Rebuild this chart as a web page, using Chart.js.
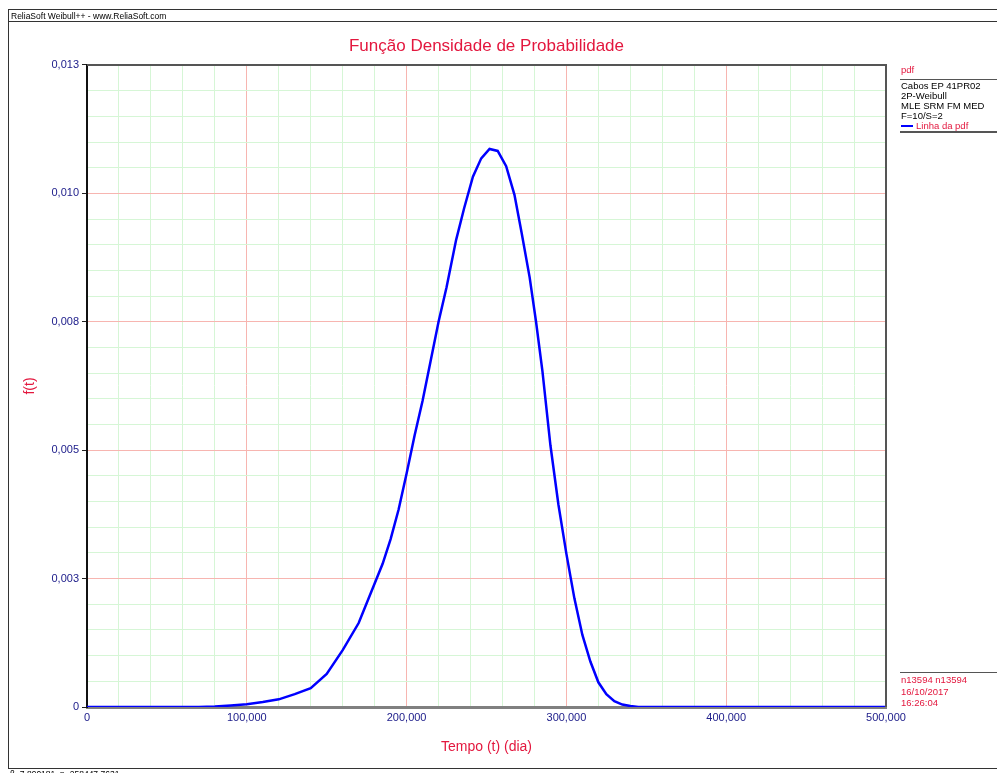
<!DOCTYPE html>
<html>
<head>
<meta charset="utf-8">
<title>Função Densidade de Probabilidade</title>
<script src="https://cdn.jsdelivr.net/npm/chart.js@4.4.1/dist/chart.umd.min.js"></script>
<style>
html,body{margin:0;padding:0;background:#fff;overflow:hidden;}
#wrap{position:relative;width:997px;height:773px;font-family:"Liberation Sans",Arial,sans-serif;}
#chartBox{position:absolute;left:0;top:0;width:997px;height:773px;}
.frame{position:absolute;left:8px;top:9px;width:1000px;height:760px;border:1.5px solid #333;box-sizing:border-box;pointer-events:none;}
.hdr{position:absolute;left:8px;top:21px;width:1000px;border-top:1px solid #333;}
.txt{position:absolute;font-size:9.5px;line-height:10px;white-space:nowrap;}
.red{color:#e3173e;}
.sep{position:absolute;left:900px;width:97px;border-top:1px solid #555;}
</style>
</head>
<body>
<div id="wrap">
  <div id="chartBox"><canvas id="chart"></canvas></div>
  <div class="frame"></div>
  <div class="hdr"></div>
  <div class="txt" style="left:11px;top:11px;font-size:8.5px;">ReliaSoft Weibull++ - www.ReliaSoft.com</div>

  <div class="txt red" style="left:901px;top:65px;">pdf</div>
  <div class="sep" style="top:79px;"></div>
  <div class="txt" style="left:901px;top:81px;">Cabos EP 41PR02<br>2P-Weibull<br>MLE SRM FM MED<br>F=10/S=2</div>
  <div style="position:absolute;left:901px;top:125px;width:12px;border-top:2px solid #0000ff;"></div>
  <div class="txt red" style="left:916px;top:121px;">Linha da pdf</div>
  <div class="sep" style="top:131px;border-top:2px solid #555;"></div>

  <div class="sep" style="top:672px;"></div>
  <div class="txt red" style="left:901px;top:674px;line-height:11.7px;">n13594 n13594<br>16/10/2017<br>16:26:04</div>

  <div class="txt" style="left:10px;top:769px;font-size:8.5px;">β=7,890181, η=258447,7631</div>
</div>
<script>
// data (time in days, pdf value)
const tempo = [0, 20000, 40000, 60000, 70000, 80000, 90000, 100000, 110000, 120000,
  130000, 140000, 150000, 160000, 170000, 180000, 185000, 190000, 195000, 200000, 205000, 210000,
  215000, 220000, 225000, 231000, 236000, 241500, 246700, 251900, 257000, 262300,
  267500, 272000, 277000, 281000, 285000, 290000, 295000, 300000, 305000, 310000,
  315000, 320000, 325000, 330000, 335000, 340000, 345000, 400000, 450000, 500000];
const pdf = [0, 0, 0, 0, 0, 0.00001, 0.00003, 0.000055, 0.0001, 0.000155,
  0.00026, 0.00038, 0.00067, 0.00115, 0.0017, 0.0025, 0.0029, 0.0034, 0.0040, 0.00473, 0.0055, 0.0062,
  0.0070, 0.0078, 0.0085, 0.00946, 0.0101, 0.01074, 0.01111, 0.0113, 0.01126, 0.01095,
  0.01037, 0.0096, 0.0087, 0.0078, 0.0068, 0.0053, 0.0041, 0.0031, 0.0022, 0.00146,
  0.00092, 0.0005, 0.00026, 0.00012, 0.00005, 0.00002, 0, 0, 0, 0];

const xTickLabels = ['0', '100,000', '200,000', '300,000', '400,000', '500,000'];
const yTickLabels = ['0', '0,003', '0,005', '0,008', '0,010', '0,013'];
const xMax = 500000;
const yMax = 0.013;

const red = '#e3173e';
const navy = '#20208c';
const gridMajor = '#f7b5b0';
const gridMinor = '#d6f6d6';
const font = 'Liberation Sans';

// top and right frame of the plot area
const frameLines = {
  id: 'frameLines',
  afterDatasetsDraw(c){
    const a = c.chartArea, g = c.ctx;
    g.save();
    g.strokeStyle = '#555'; g.lineWidth = 2;
    g.beginPath(); g.moveTo(a.left, a.top); g.lineTo(a.right, a.top); g.lineTo(a.right, a.bottom); g.stroke();
    g.restore();
  }
};

const ctx = document.getElementById('chart').getContext('2d');
new Chart(ctx, {
  type: 'line',
  data: {
    datasets: [{
      label: 'Linha da pdf',
      data: tempo.map((t, i) => ({x: t, y: pdf[i]})),
      borderColor: '#0000ff',
      borderWidth: 2.5,
      pointRadius: 0,
      tension: 0,
      fill: false
    }]
  },
  options: {
    responsive: true,
    maintainAspectRatio: false,
    animation: false,
    layout: { padding: { left: 22, right: 111, top: 0, bottom: 17.6 } },
    plugins: {
      legend: { display: false },
      tooltip: { enabled: false },
      title: {
        display: true,
        fullSize: false,
        text: 'Função Densidade de Probabilidade',
        color: red,
        font: { family: font, size: 17, weight: 'normal', lineHeight: 1.2 },
        padding: { top: 36, bottom: 8.6 }
      }
    },
    scales: {
      x: {
        type: 'linear', min: 0, max: xMax,
        afterBuildTicks: s => { s.ticks = Array.from({length: 26}, (_, k) => ({value: k * xMax / 25})); },
        afterFit: s => { s.height = 48.4; },
        ticks: {
          autoSkip: false, maxRotation: 0, color: navy, padding: 2,
          font: { family: font, size: 11 },
          callback: (v, i) => i % 5 === 0 ? xTickLabels[i / 5] : ''
        },
        grid: {
          color: c => c.index % 5 === 0 ? gridMajor : gridMinor,
          lineWidth: 1, tickLength: 2, tickColor: 'rgba(0,0,0,0)'
        },
        border: { color: '#808080', width: 3 },
        title: {
          display: true, text: 'Tempo (t) (dia)', color: red, padding: 0,
          font: { family: font, size: 14, lineHeight: 1.2 }
        }
      },
      y: {
        type: 'linear', min: 0, max: yMax,
        afterBuildTicks: s => { s.ticks = Array.from({length: 26}, (_, k) => ({value: k * yMax / 25})); },
        afterFit: s => { s.width = 65; },
        ticks: {
          autoSkip: false, color: navy, padding: 3,
          font: { family: font, size: 11 },
          callback: (v, i) => i % 5 === 0 ? yTickLabels[i / 5] : ''
        },
        grid: {
          color: c => c.index % 5 === 0 ? gridMajor : gridMinor,
          lineWidth: 1, tickLength: 5,
          tickColor: c => c.index % 5 === 0 ? '#222' : 'rgba(0,0,0,0)'
        },
        border: { color: '#111', width: 2 },
        title: {
          display: true, text: 'f(t)', color: red, padding: 0,
          font: { family: font, size: 14, lineHeight: 1.2 }
        }
      }
    }
  },
  plugins: [frameLines]
});
</script>
</body>
</html>
